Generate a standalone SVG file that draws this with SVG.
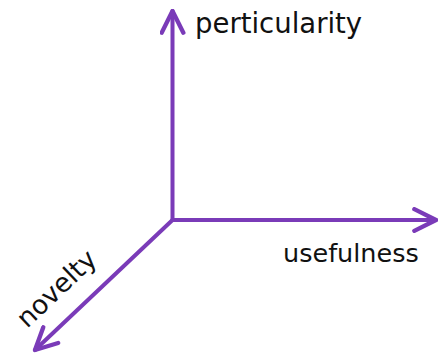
<svg xmlns="http://www.w3.org/2000/svg" width="438" height="353" viewBox="0 0 438 353">
  <style>
    .axis { stroke: #7a3bb8; stroke-width: 4; fill: none; stroke-linecap: round; stroke-linejoin: round; }
    .label { font-family: "DejaVu Sans", "Open Sans", sans-serif; fill: #111; }
  </style>
  <defs>
    <marker id="chevron" viewBox="0 0 12 12" refX="11" refY="6" markerWidth="6.5" markerHeight="6.5" markerUnits="strokeWidth" orient="auto">
      <path d="M1,1 L11,6 L1,11" fill="none" stroke="#7a3bb8" stroke-width="2" stroke-linecap="round" stroke-linejoin="round"/>
    </marker>
  </defs>
  <rect width="438" height="353" fill="#fff"/>
  <g id="connectors">
    <line class="axis" x1="172.5" y1="220" x2="172.5" y2="11" marker-end="url(#chevron)"/>
    <line class="axis" x1="172.5" y1="220" x2="436" y2="220" marker-end="url(#chevron)"/>
    <line class="axis" x1="172.5" y1="220" x2="35" y2="350" marker-end="url(#chevron)"/>
  </g>
  <g id="particularity">
    <text class="label" x="195" y="33" font-size="27.5">perticularity</text>
  </g>
  <g id="usefulness">
    <text class="label" x="283" y="262" font-size="25.5">usefulness</text>
  </g>
  <g id="novelty">
    <text class="label" font-size="26.5" transform="translate(27,329) rotate(-43.5)">novelty</text>
  </g>
</svg>
